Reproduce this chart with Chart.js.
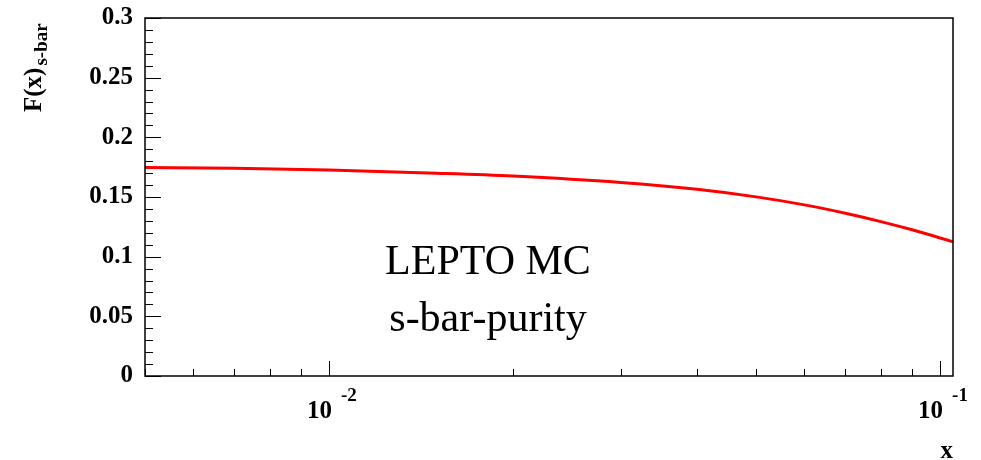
<!DOCTYPE html>
<html>
<head>
<meta charset="utf-8">
<title>s-bar purity</title>
<script src="https://cdn.jsdelivr.net/npm/chart.js@4/dist/chart.umd.min.js"></script>
<style>
  html, body { margin: 0; padding: 0; background: #fff; }
  canvas { display: block; }
</style>
</head>
<body>
<canvas id="purityChart" width="981" height="460"></canvas>
<script>
// purity F(x) of the s-bar sample vs Bjorken x (LEPTO MC)
const xValues = [0.005, 0.007, 0.01, 0.015, 0.02, 0.03, 0.04, 0.05, 0.06, 0.07, 0.08, 0.09, 0.105];
const purity  = [0.1748, 0.1740, 0.1726, 0.1700, 0.1676, 0.1622, 0.1564, 0.1501, 0.1434, 0.1364, 0.1294, 0.1225, 0.1125];

const xRange = [0.005, 0.105];
const yRange = [0, 0.3];
const decadeLabels = [0.01, 0.1];
const decadeExponents = ['-2', '-1'];

const serif = "'Liberation Serif', 'DejaVu Serif', serif";

// ROOT style frame: box, inward ticks, 10^n labels, titles
const rootFrame = {
  id: 'rootFrame',
  afterDraw(chart) {
    const { ctx, chartArea: a, scales: { x, y } } = chart;
    ctx.save();

    ctx.strokeStyle = '#000';
    ctx.lineWidth = 1;
    ctx.beginPath();
    for (let i = 0; i <= 30; i++) {
      const py = Math.round(y.getPixelForValue(i / 100)) + 0.5;
      const len = i % 5 === 0 ? 16 : 8;
      ctx.moveTo(a.left, py);
      ctx.lineTo(a.left + len, py);
    }
    for (const base of [0.001, 0.01, 0.1]) {
      for (let m = 1; m <= 9; m++) {
        const v = base * m;
        if (v < xRange[0] || v > xRange[1]) continue;
        const px = Math.round(x.getPixelForValue(v)) + 0.5;
        const len = m === 1 ? 15 : 7;
        ctx.moveTo(px, a.bottom);
        ctx.lineTo(px, a.bottom - len);
      }
    }
    ctx.stroke();

    ctx.lineWidth = 1.5;
    ctx.strokeRect(a.left, a.top, a.right - a.left, a.bottom - a.top);

    // decade labels
    ctx.fillStyle = '#000';
    ctx.textBaseline = 'alphabetic';
    decadeLabels.forEach((v, i) => {
      const px = x.getPixelForValue(v);
      ctx.font = 'bold 25px ' + serif;
      ctx.textAlign = 'right';
      ctx.fillText('10', px + 3, a.bottom + 42);
      ctx.font = 'bold 19px ' + serif;
      ctx.textAlign = 'left';
      ctx.fillText(decadeExponents[i], px + 12, a.bottom + 25);
    });

    // axis titles
    ctx.font = 'bold 25px ' + serif;
    ctx.textAlign = 'right';
    ctx.fillText('x', a.right, 458);

    ctx.save();
    ctx.translate(41, 112);
    ctx.rotate(-Math.PI / 2);
    ctx.textAlign = 'left';
    ctx.font = 'bold 25px ' + serif;
    ctx.fillText('F(x)', 0, 0);
    const w = ctx.measureText('F(x)').width;
    ctx.font = 'bold 19px ' + serif;
    ctx.fillText('s-bar', w + 2, 6);
    ctx.restore();

    // labels inside the frame
    ctx.textAlign = 'center';
    ctx.font = '42px ' + serif;
    ctx.fillText('LEPTO MC', 488, 274);
    ctx.fillText('s-bar-purity', 488, 331);

    ctx.restore();
  }
};

const ctx = document.getElementById('purityChart').getContext('2d');
const purityChart = new Chart(ctx, {
  type: 'line',
  data: {
    datasets: [{
      label: 'purity',
      data: xValues.map((v, i) => ({ x: v, y: purity[i] })),
      borderColor: '#ff0000',
      borderWidth: 3,
      pointRadius: 0,
      fill: false,
      cubicInterpolationMode: 'monotone'
    }]
  },
  options: {
    responsive: false,
    animation: false,
    devicePixelRatio: 1,
    layout: { padding: { top: 18, right: 28, left: 0, bottom: 0 } },
    plugins: {
      legend: { display: false },
      tooltip: { enabled: false }
    },
    scales: {
      x: {
        type: 'logarithmic',
        min: xRange[0],
        max: xRange[1],
        grid: { display: false, drawTicks: false },
        border: { display: false },
        ticks: { display: false },
        afterFit(s) { s.height = 84; s.paddingLeft = 0; s.paddingRight = 0; }
      },
      y: {
        min: yRange[0],
        max: yRange[1],
        grid: { display: false, drawTicks: false },
        border: { display: false },
        ticks: {
          stepSize: 0.05,
          padding: 12,
          color: '#000',
          font: { family: serif, size: 25, weight: 'bold' },
          callback: v => String(Number(v.toFixed(2)))
        },
        afterFit(s) { s.width = 145; s.paddingTop = 0; s.paddingBottom = 0; }
      }
    }
  },
  plugins: [rootFrame]
});
</script>
</body>
</html>
